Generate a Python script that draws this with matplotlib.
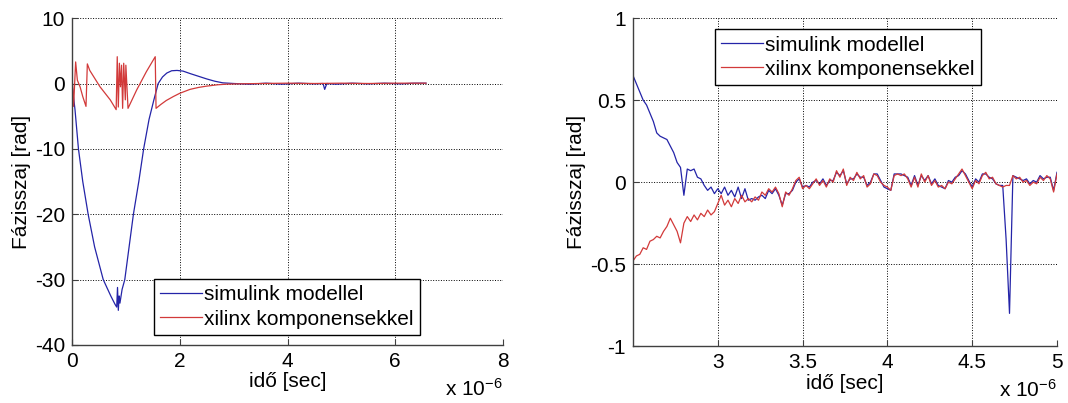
import matplotlib
matplotlib.use("Agg")
import matplotlib.pyplot as plt
import numpy as np

plt.rcParams['font.family'] = ['Liberation Sans', 'DejaVu Sans']
plt.rcParams['mathtext.default'] = 'regular'

# time axis values are in microseconds (axis shows "x 10^-6")
labels = ['simulink modellel', 'xilinx komponensekkel']
blue = '#2424a8'
red = '#d23a3a'

# ---- left plot: whole run ----
t_sim_l = [0, 0.056, 0.12, 0.2, 0.30, 0.42, 0.58, 0.72, 0.80, 0.83, 0.845, 0.86, 0.875, 0.89,
           0.93, 0.98, 1.06, 1.14, 1.24, 1.33, 1.43, 1.52, 1.60, 1.68, 1.76, 1.85, 1.95, 2.06,
           2.2, 2.35, 2.5, 2.65, 2.8, 3.0, 3.3, 3.6, 3.9, 4.2, 4.5, 4.66, 4.69, 4.73, 4.9,
           5.2, 5.5, 5.8, 6.1, 6.35, 6.57]
v_sim_l = [0, -4, -10, -15, -20, -25, -30, -32.5, -33.8, -34.2, -31.2, -34.7, -32.5, -33.6,
           -31.5, -30, -25, -20, -15, -10, -5.5, -2.5, 0, 1.0, 1.6, 1.95, 2.0, 1.9,
           1.5, 1.1, 0.7, 0.35, 0.1, 0.0, -0.1, 0.05, -0.1, 0.05, -0.05, 0.0, -0.9, 0.0, -0.1,
           0.05, -0.05, 0.05, -0.05, 0.05, 0.05]

t_xil_l = [0, 0.01, 0.03, 0.068, 0.1, 0.15, 0.2, 0.26, 0.285, 0.33, 0.52, 0.71, 0.82, 0.84,
           0.86, 0.88, 0.90, 0.92, 0.94, 0.96, 0.99, 1.0, 1.04, 1.2, 1.38, 1.545, 1.56, 1.65,
           1.75, 1.88, 2.0, 2.19, 2.35, 2.5, 2.7, 2.87, 3.1, 3.5, 4.0, 4.5, 5.0, 5.5, 6.0, 6.57]
v_xil_l = [-2.5, 0, -3.5, 3.3, 0.5, -0.5, -2, -3.5, 3.0, 2.0, -0.5, -2.5, -4.0, 4.1,
           -3.6, 3.1, -0.5, 2.8, -3.8, 3.1, -2.5, 2.8, -3.8, -1.0, 1.8, 4.1, -3.8, -3.2,
           -2.6, -2.0, -1.5, -0.9, -0.6, -0.4, -0.2, -0.1, -0.05, 0.0, 0.05, 0.0, 0.05, 0.0, 0.05, 0.05]

# ---- right plot: zoom on 2.5 .. 5 us, sampled every 0.02 us ----
t_r = np.linspace(2.5, 5.0, 126)
v_sim_r = [0.65, 0.60, 0.55, 0.50, 0.47, 0.42, 0.37, 0.30, 0.28, 0.27,
           0.26, 0.22, 0.18, 0.12, 0.09, -0.08, 0.08, 0.07, 0.08, 0.03,
           0.02, -0.02, -0.05, -0.03, -0.07, -0.04, -0.07, -0.03, -0.08, -0.05,
           -0.09, -0.03, -0.10, -0.04, -0.11, -0.10, -0.11, -0.09, -0.08, -0.10,
           -0.05, -0.07, -0.04, -0.08, -0.14, -0.07, -0.07, -0.05, 0.00, 0.02,
           -0.03, -0.02, -0.03, 0.00, 0.01, -0.01, 0.02, -0.02, 0.01, 0.01,
           0.06, 0.04, 0.07, -0.01, 0.02, 0.02, 0.05, 0.03, 0.03, -0.02,
           0.00, 0.05, 0.05, 0.01, -0.03, -0.04, -0.05, 0.05, 0.05, 0.05,
           0.04, 0.03, -0.02, 0.04, -0.02, 0.04, 0.01, 0.04, -0.01, 0.02,
           -0.02, -0.03, -0.04, 0.01, 0.00, 0.03, 0.04, 0.07, 0.05, 0.01,
           -0.03, 0.02, 0.00, 0.05, 0.05, 0.03, 0.02, -0.01, -0.02, -0.02,
           -0.35, -0.80, 0.04, 0.03, 0.02, 0.01, 0.02, -0.01, 0.01, 0.00,
           0.04, 0.02, 0.03, 0.03, -0.05, 0.06]
v_xil_r = [-0.48, -0.45, -0.44, -0.40, -0.41, -0.36, -0.35, -0.33, -0.34, -0.30,
           -0.27, -0.22, -0.26, -0.30, -0.37, -0.25, -0.21, -0.24, -0.20, -0.23,
           -0.19, -0.21, -0.17, -0.20, -0.18, -0.13, -0.08, -0.14, -0.11, -0.15,
           -0.10, -0.13, -0.08, -0.12, -0.10, -0.12, -0.09, -0.11, -0.06, -0.08,
           -0.04, -0.06, -0.03, -0.07, -0.15, -0.06, -0.08, -0.04, 0.01, 0.03,
           -0.04, -0.02, -0.04, -0.01, 0.02, -0.02, 0.01, -0.03, 0.02, 0.00,
           0.07, 0.03, 0.08, -0.02, 0.03, 0.01, 0.06, 0.02, 0.04, -0.03,
           -0.01, 0.05, 0.04, 0.00, -0.02, -0.03, -0.05, 0.04, 0.05, 0.04,
           0.05, 0.02, -0.03, 0.03, -0.03, 0.05, 0.00, 0.04, -0.02, 0.01,
           -0.03, -0.02, -0.04, 0.00, -0.01, 0.02, 0.05, 0.08, 0.04, 0.00,
           -0.04, 0.01, -0.01, 0.04, 0.06, 0.02, 0.03, -0.01, -0.02, -0.03,
           -0.02, -0.02, 0.04, 0.02, 0.03, 0.00, 0.01, -0.02, 0.00, -0.01,
           0.03, 0.01, 0.04, 0.02, -0.06, 0.05]

fig = plt.figure(figsize=(10.68, 4.03), dpi=100)
ax1 = fig.add_axes([0.0674, 0.144, 0.4036, 0.811])
ax2 = fig.add_axes([0.5927, 0.141, 0.397, 0.814])

fs = 15

def style(ax):
    for s in ['top', 'right']:
        ax.spines[s].set_visible(False)
    for s in ['left', 'bottom']:
        ax.spines[s].set_color('#404040')
        ax.spines[s].set_linewidth(1.0)
    ax.grid(True, linestyle=':', color='k', linewidth=0.7)
    ax.tick_params(direction='in', length=4, labelsize=fs, color='#404040', pad=5)
    ax.set_xlabel('idő [sec]', fontsize=fs, labelpad=1)
    ax.set_ylabel('Fázisszaj [rad]', fontsize=fs, labelpad=3)

ax1.plot(t_sim_l, v_sim_l, color=blue, lw=0.9, label=labels[0])
ax1.plot(t_xil_l, v_xil_l, color=red, lw=0.9, label=labels[1])
ax1.set_xlim(0, 8)
ax1.set_ylim(-40, 10)
ax1.set_xticks([0, 2, 4, 6, 8])
ax1.set_xticklabels(['0', '2', '4', '6', '8'])
ax1.set_yticks([-40, -30, -20, -10, 0, 10])
ax1.set_yticklabels(['-40', '-30', '-20', '-10', '0', '10'])
style(ax1)
ax1.legend(loc='lower left', bbox_to_anchor=(0.19, 0.031), borderaxespad=0,
           fontsize=fs, fancybox=False, edgecolor='k', framealpha=1,
           handlelength=2.0, handletextpad=0.1, borderpad=0.3, labelspacing=0.25)
ax1.text(1.0, -0.168, r'x 10$^{-6}$', transform=ax1.transAxes, ha='right', va='bottom', fontsize=fs)

ax2.plot(t_r, v_sim_r, color=blue, lw=0.9, label=labels[0])
ax2.plot(t_r, v_xil_r, color=red, lw=0.9, label=labels[1])
ax2.set_xlim(2.5, 5)
ax2.set_ylim(-1, 1)
ax2.set_xticks([3, 3.5, 4, 4.5, 5])
ax2.set_xticklabels(['3', '3.5', '4', '4.5', '5'])
ax2.set_yticks([-1, -0.5, 0, 0.5, 1])
ax2.set_yticklabels(['-1', '-0.5', '0', '0.5', '1'])
style(ax2)
ax2.legend(loc='upper left', bbox_to_anchor=(0.193, 0.966), borderaxespad=0,
           fontsize=fs, fancybox=False, edgecolor='k', framealpha=1,
           handlelength=2.0, handletextpad=0.1, borderpad=0.3, labelspacing=0.25)
ax2.text(1.0, -0.168, r'x 10$^{-6}$', transform=ax2.transAxes, ha='right', va='bottom', fontsize=fs)

fig.savefig('out.png', dpi=100)
